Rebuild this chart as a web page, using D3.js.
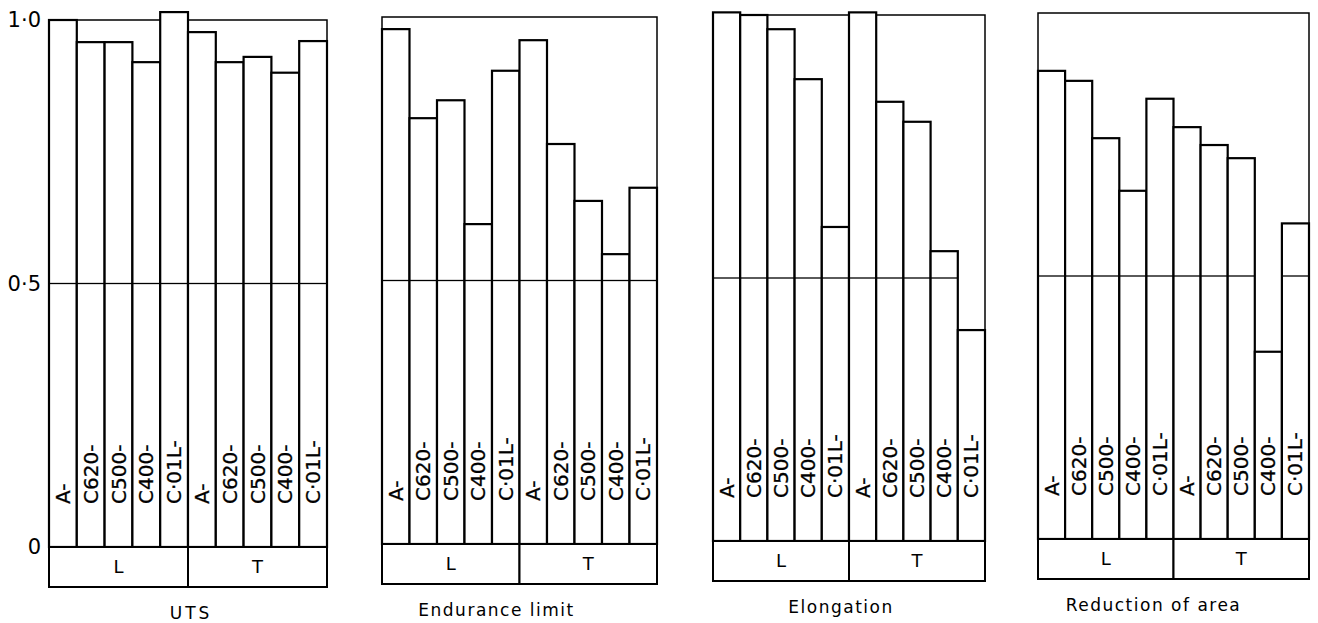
<!DOCTYPE html>
<html>
<head>
<meta charset="utf-8">
<script src="https://cdn.jsdelivr.net/npm/d3@7"></script>
<style>
  body { margin: 0; background: #fff; }
  text { font-family: "DejaVu Sans", sans-serif; fill: #000; }
</style>
</head>
<body>
<div class="container"></div>
<script>
// data
var categories = ["A-", "C620-", "C500-", "C400-", "C·01L-"];
var groups = ["L", "T"];
var titles = ["UTS", "Endurance limit", "Elongation", "Reduction of area"];
var utsValues = [1.0, 0.958, 0.958, 0.92, 1.015, 0.977, 0.92, 0.93, 0.9, 0.96];
var enduranceValues = [0.977, 0.808, 0.842, 0.607, 0.898, 0.956, 0.759, 0.651, 0.55, 0.676];
var elongationValues = [1.005, 1.0, 0.973, 0.878, 0.597, 1.005, 0.835, 0.797, 0.551, 0.401];
var reductionValues = [0.89, 0.871, 0.762, 0.662, 0.837, 0.783, 0.749, 0.724, 0.356, 0.6];
var yTickValues = [0, 0.5, 1.0];
var yTickLabels = ["0", "0·5", "1·0"];

var seriesList = [utsValues, enduranceValues, elongationValues, reductionValues];

// panel layout
var panelLeft = [49, 382, 713, 1038];
var panelRight = [327, 657, 985, 1309];
var panelTop = [20, 17, 15, 13];
var panelZero = [547, 544, 541, 539];
var titleShift = [3, -23, -8, -20];
var boxHeight = 40;

var svg = d3.select(".container")
  .append("svg")
  .attr("width", 1318)
  .attr("height", 623);

seriesList.forEach((values, p) => {
  let g = svg.append("g");
  let keys = [];
  groups.forEach((gr) => categories.forEach((c) => keys.push(gr + "|" + c)));

  let x = d3.scaleBand().domain(keys).range([panelLeft[p], panelRight[p]]).padding(0);
  let y = d3.scaleLinear().domain([0, 1]).range([panelZero[p], panelTop[p]]);

  let bars = values.map((v, i) => ({ key: keys[i], label: keys[i].split("|")[1], value: v }));

  // frame at 1.0
  g.append("rect")
    .attr("x", panelLeft[p])
    .attr("y", y(1))
    .attr("width", panelRight[p] - panelLeft[p])
    .attr("height", y(0) - y(1))
    .attr("fill", "none")
    .attr("stroke", "#000")
    .attr("stroke-width", 1.5);

  g.selectAll("rect.bar")
    .data(bars)
    .enter()
    .append("rect")
    .attr("class", "bar")
    .attr("x", (d) => x(d.key))
    .attr("y", (d) => y(d.value))
    .attr("width", x.bandwidth())
    .attr("height", (d) => y(0) - y(d.value))
    .attr("fill", "#fff")
    .attr("stroke", "#000")
    .attr("stroke-width", 2.2);

  // 0.5 line, only through bars that reach above it
  g.selectAll("line.half")
    .data(bars.filter((d) => d.value > 0.5))
    .enter()
    .append("line")
    .attr("x1", (d) => x(d.key))
    .attr("x2", (d) => x(d.key) + x.bandwidth())
    .attr("y1", y(0.5))
    .attr("y2", y(0.5))
    .attr("stroke", "#000")
    .attr("stroke-width", 1.3);

  g.selectAll("text.cat")
    .data(bars)
    .enter()
    .append("text")
    .attr("class", "cat")
    .attr("transform", (d) => `translate(${x(d.key) + x.bandwidth() / 2 + 7},${y(0) - 43}) rotate(-90)`)
    .attr("font-size", 20)
    .attr("stroke", "#000")
    .attr("stroke-width", 0.3)
    .text((d) => d.label);

  // L / T boxes
  let gx = d3.scaleBand().domain(groups).range([panelLeft[p], panelRight[p]]).padding(0);
  g.selectAll("rect.grp")
    .data(groups)
    .enter()
    .append("rect")
    .attr("x", (d) => gx(d))
    .attr("y", y(0))
    .attr("width", gx.bandwidth())
    .attr("height", boxHeight)
    .attr("fill", "#fff")
    .attr("stroke", "#000")
    .attr("stroke-width", 2);

  g.selectAll("text.grp")
    .data(groups)
    .enter()
    .append("text")
    .attr("x", (d) => gx(d) + gx.bandwidth() / 2)
    .attr("y", y(0) + boxHeight / 2)
    .attr("dy", "0.35em")
    .attr("text-anchor", "middle")
    .attr("font-size", 18)
    .text((d) => d);

  g.append("text")
    .attr("x", (panelLeft[p] + panelRight[p]) / 2 + titleShift[p])
    .attr("y", y(0) + boxHeight + 32)
    .attr("text-anchor", "middle")
    .attr("font-size", 17)
    .attr("letter-spacing", p == 0 ? 3 : 1.5)
    .text(titles[p]);

  if (p == 0) {
    let axis = d3.axisLeft(y)
      .tickValues(yTickValues)
      .tickFormat((d, i) => yTickLabels[i])
      .tickSize(0)
      .tickPadding(0);
    let ax = svg.append("g")
      .attr("transform", `translate(41,0)`)
      .call(axis);
    ax.select(".domain").remove();
    ax.selectAll("text")
      .attr("font-size", 21)
      .attr("font-family", "DejaVu Sans, sans-serif")
      .attr("fill", "#000");
  }
});
</script>
</body>
</html>
